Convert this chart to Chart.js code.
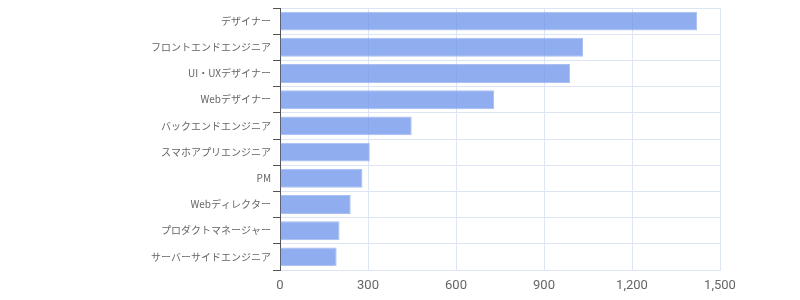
<!DOCTYPE html>
<html><head><meta charset="utf-8">
<script src="https://cdn.jsdelivr.net/npm/chart.js@4"></script>
<style>html,body{margin:0;padding:0;background:#fff}#wrap{width:800px;height:300px}</style>
</head><body><div id="wrap"><canvas id="c" width="800" height="300"></canvas></div>
<script>
const categories = ["デザイナー","フロントエンドエンジニア","UI・UXデザイナー","Webデザイナー","バックエンドエンジニア","スマホアプリエンジニア","PM","Webディレクター","プロダクトマネージャー","サーバーサイドエンジニア"];
const counts = [1422, 1033, 989, 730, 449, 306, 281, 241, 203, 193];
const xTicks = [0, 300, 600, 900, 1200, 1500];

const gridColor = "#dde4f4";
new Chart(document.getElementById("c"), {
  type: "bar",
  data: { labels: categories, datasets: [{ data: counts, backgroundColor: "rgba(115,153,235,0.8)", borderColor: "rgba(160,185,240,0.9)", borderWidth: 1 }] },
  options: {
    indexAxis: "y", responsive: false, animation: false,
    layout: { padding: { top: 8, right: 80, bottom: 0, left: 0 } },
    plugins: { legend: { display: false }, tooltip: { enabled: false } },
    scales: {
      x: {
        min: 0, max: 1500,
        afterBuildTicks: s => { s.ticks = xTicks.map(v => ({ value: v })); },
        grid: { color: gridColor, drawTicks: false },
        border: { color: gridColor },
        ticks: { color: "#666", padding: 8, font: { family: "Roboto, 'Noto Sans CJK JP', sans-serif", size: 13 }, callback: v => v.toLocaleString("en-US") },
        afterFit: s => { s.height = 30; }
      },
      y: {
        grid: { color: gridColor, tickColor: "#555", tickLength: 7 },
        border: { color: "#555" },
        ticks: { color: "#666", padding: 2, font: { family: "'Noto Sans CJK JP', sans-serif", size: 10 } },
        afterFit: s => { s.width = 280; }
      }
    }
  }
});
</script></body></html>
